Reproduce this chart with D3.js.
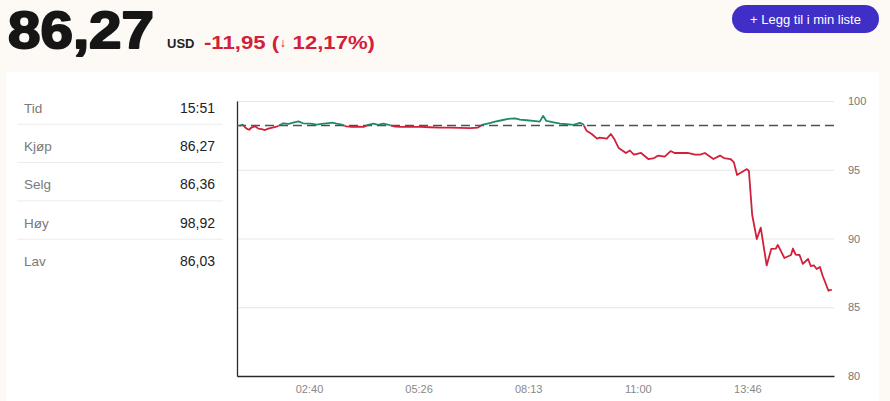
<!DOCTYPE html>
<html>
<head>
<meta charset="utf-8">
<script src="https://cdn.jsdelivr.net/npm/d3@7"></script>
<style>
  body { margin: 0; background: #fdfaf6; }
  svg { display: block; }
  text { font-family: "Liberation Sans", Arial, sans-serif; }
</style>
</head>
<body>
<script>
// kurs i dag (klokkeslett + pris)
var times = ["00:54","00:59","01:05","01:09","01:13","01:18","01:23","01:28","01:33","01:38",
  "01:46","01:52","02:01","02:09","02:16","02:24","02:31","02:42","02:52","02:59",
  "03:07","03:15","03:22","03:30","03:37","03:45","03:55","04:03","04:10","04:18",
  "04:25","04:33","04:41","04:51","05:01","05:11","05:21","05:29","05:44","05:59",
  "06:14","06:30","06:45","06:57","07:03","07:13","07:23","07:33","07:43","07:53",
  "08:01","08:11","08:21","08:31","08:36","08:41","08:52","09:02","09:12","09:22",
  "09:32","09:37","09:42","09:47","09:50","09:58","10:02","10:13","10:19","10:24",
  "10:31","10:42","10:48","10:54","11:05","11:16","11:25","11:31","11:41","11:50",
  "11:56","12:06","12:16","12:27","12:35","12:42","12:55","13:05","13:11","13:21",
  "13:26","13:31","13:46","13:49","13:54","14:01","14:07","14:16","14:23","14:30",
  "14:33","14:43","14:53","14:56","15:00","15:06","15:11","15:19","15:23","15:28",
  "15:32","15:37","15:41","15:50","15:52","15:55"];
var prices = [98.18,98.28,97.99,97.91,98.09,98.16,97.99,97.96,97.89,97.99,
  98.09,98.16,98.38,98.33,98.42,98.52,98.38,98.35,98.28,98.33,
  98.38,98.42,98.35,98.28,98.15,98.12,98.14,98.12,98.26,98.36,
  98.26,98.36,98.26,98.14,98.12,98.14,98.12,98.12,98.09,98.07,
  98.07,98.04,98.02,98.07,98.26,98.38,98.50,98.60,98.70,98.74,
  98.65,98.60,98.55,98.50,98.92,98.55,98.45,98.36,98.31,98.26,
  98.41,98.31,97.84,97.69,97.60,97.26,97.33,97.26,97.60,97.26,
  96.58,96.22,96.40,96.10,96.22,95.78,95.85,96.03,95.96,96.36,
  96.22,96.22,96.22,96.10,96.10,96.22,95.78,96.03,95.85,95.78,
  95.56,94.62,95.05,94.91,91.71,89.96,90.79,88.04,89.24,89.27,
  89.53,88.58,88.80,89.27,88.83,88.80,88.15,88.51,88.00,88.04,
  87.78,87.93,87.31,86.20,86.25,86.27];
var prevClose = 98.22;

var yTicks = [80, 85, 90, 95, 100];
var xTicks = ["02:40:00", "05:26:40", "08:13:20", "11:00:00", "13:46:40"];
var xStart = "00:50:30";
var xEnd = "15:58:24";

var statLabels = ["Tid", "Kjøp", "Selg", "Høy", "Lav"];
var statValues = ["15:51", "86,27", "86,36", "98,92", "86,03"];

var lastPrice = "86,27";
var currency = "USD";
var change = "-11,95";
var changePct = "12,17%";

var svgW = 890, svgH = 401;
var plotL = 237, plotR = 834, plotT = 101, plotB = 376;
var green = "#1e8a6b", red = "#d21f3c";

var parseHM = d3.timeParse("%H:%M");
var parseHMS = d3.timeParse("%H:%M:%S");

var data = times.map(function(t, i) { return { t: parseHM(t), v: prices[i] }; });

var svg = d3.select("body").append("svg")
    .attr("width", svgW)
    .attr("height", svgH);

// kort
svg.append("rect")
    .attr("x", 6).attr("y", 72)
    .attr("width", 873).attr("height", 340)
    .attr("fill", "#fff");

// overskrift
svg.append("text")
    .attr("x", 8).attr("y", 48)
    .attr("font-size", 52)
    .attr("font-weight", 700)
    .attr("fill", "#161616")
    .attr("stroke", "#161616")
    .attr("stroke-width", 2)
    .attr("stroke-linejoin", "round")
    .attr("textLength", 146)
    .attr("lengthAdjust", "spacingAndGlyphs")
    .text(lastPrice);

svg.append("text")
    .attr("x", 167).attr("y", 48)
    .attr("font-size", 13)
    .attr("font-weight", 700)
    .attr("fill", "#222")
    .text(currency);

var chg = svg.append("text")
    .attr("x", 204).attr("y", 49)
    .attr("font-family", "Inter, sans-serif")
    .attr("font-size", 18)
    .attr("font-weight", 600)
    .attr("fill", red)
    .attr("textLength", 171)
    .attr("lengthAdjust", "spacingAndGlyphs");
chg.append("tspan").text(change + " (");
chg.append("tspan").attr("font-size", 12).attr("dy", -2).text("↓");
chg.append("tspan").attr("dy", 2).text(" " + changePct + ")");

// knapp
svg.append("rect")
    .attr("x", 732).attr("y", 5)
    .attr("width", 147).attr("height", 28)
    .attr("rx", 14)
    .attr("fill", "#3f2fc6");
svg.append("text")
    .attr("x", 805.5).attr("y", 24)
    .attr("text-anchor", "middle")
    .attr("font-family", "Inter, sans-serif")
    .attr("font-size", 13)
    .attr("font-weight", 500)
    .attr("fill", "#fff")
    .text("+ Legg til i min liste");

// tabell til venstre
var rowH = 38.3;
var rows = svg.selectAll(".row")
    .data(statLabels)
    .enter().append("g")
    .attr("class", "row")
    .attr("transform", function(d, i) { return "translate(0," + (107.7 + i * rowH) + ")"; });

rows.append("text")
    .attr("x", 24).attr("y", 5)
    .attr("font-size", 13.5)
    .attr("fill", "#7a7a7a")
    .text(function(d) { return d; });

rows.append("text")
    .attr("x", 215).attr("y", 5)
    .attr("text-anchor", "end")
    .attr("font-size", 14)
    .attr("fill", "#222")
    .text(function(d, i) { return statValues[i]; });

rows.filter(function(d, i) { return i < statLabels.length - 1; })
    .append("line")
    .attr("x1", 17).attr("x2", 223)
    .attr("y1", 16.6).attr("y2", 16.6)
    .attr("stroke", "#ececec");

// skalaer
var xScale = d3.scaleTime()
    .domain([parseHMS(xStart), parseHMS(xEnd)])
    .range([plotL, plotR]);

var yScale = d3.scaleLinear()
    .domain([80, 100])
    .range([plotB, plotT]);

// rutenett + y-etiketter til hoyre
var yAxis = svg.append("g")
    .attr("transform", "translate(" + plotR + ",0)")
    .call(d3.axisRight(yScale)
        .tickValues(yTicks)
        .tickSize(-(plotR - plotL))
        .tickPadding(14));
yAxis.select(".domain").remove();
yAxis.selectAll(".tick line").attr("stroke", "#e6e6e6");
yAxis.selectAll(".tick text")
    .attr("fill", "#777")
    .attr("font-size", 11)
    .attr("font-family", "Liberation Sans, Arial, sans-serif");

// x-akse
var xAxis = svg.append("g")
    .attr("transform", "translate(0," + plotB + ")")
    .call(d3.axisBottom(xScale)
        .tickValues(xTicks.map(parseHMS))
        .tickFormat(d3.timeFormat("%H:%M"))
        .tickSize(0)
        .tickPadding(9));
xAxis.select(".domain").attr("stroke", "#2a2a2a").attr("stroke-width", 1.3);
xAxis.selectAll(".tick text")
    .attr("fill", "#888")
    .attr("font-size", 11)
    .attr("font-family", "Liberation Sans, Arial, sans-serif");

// venstre akselinje
var leftAxis = svg.append("g")
    .attr("transform", "translate(" + plotL + ",0)")
    .call(d3.axisLeft(yScale).tickValues([]).tickSizeOuter(0));
leftAxis.select(".domain").attr("stroke", "#2a2a2a").attr("stroke-width", 1.3);

// forrige sluttkurs
svg.append("line")
    .attr("x1", plotL).attr("x2", plotR)
    .attr("y1", yScale(prevClose)).attr("y2", yScale(prevClose))
    .attr("stroke", "#505050")
    .attr("stroke-width", 1.6)
    .attr("stroke-dasharray", "9,5");

// linje, gronn over / rod under forrige sluttkurs
var defs = svg.append("defs");
defs.append("clipPath").attr("id", "over")
    .append("rect")
    .attr("x", plotL).attr("y", 0)
    .attr("width", plotR - plotL).attr("height", yScale(prevClose));
defs.append("clipPath").attr("id", "under")
    .append("rect")
    .attr("x", plotL).attr("y", yScale(prevClose))
    .attr("width", plotR - plotL).attr("height", svgH - yScale(prevClose));

var line = d3.line()
    .x(function(d) { return xScale(d.t); })
    .y(function(d) { return yScale(d.v); });

[["over", green], ["under", red]].forEach(function(c) {
    svg.append("path")
        .datum(data)
        .attr("clip-path", "url(#" + c[0] + ")")
        .attr("fill", "none")
        .attr("stroke", c[1])
        .attr("stroke-width", 1.8)
        .attr("stroke-linejoin", "round")
        .attr("d", line);
});
</script>
</body>
</html>
